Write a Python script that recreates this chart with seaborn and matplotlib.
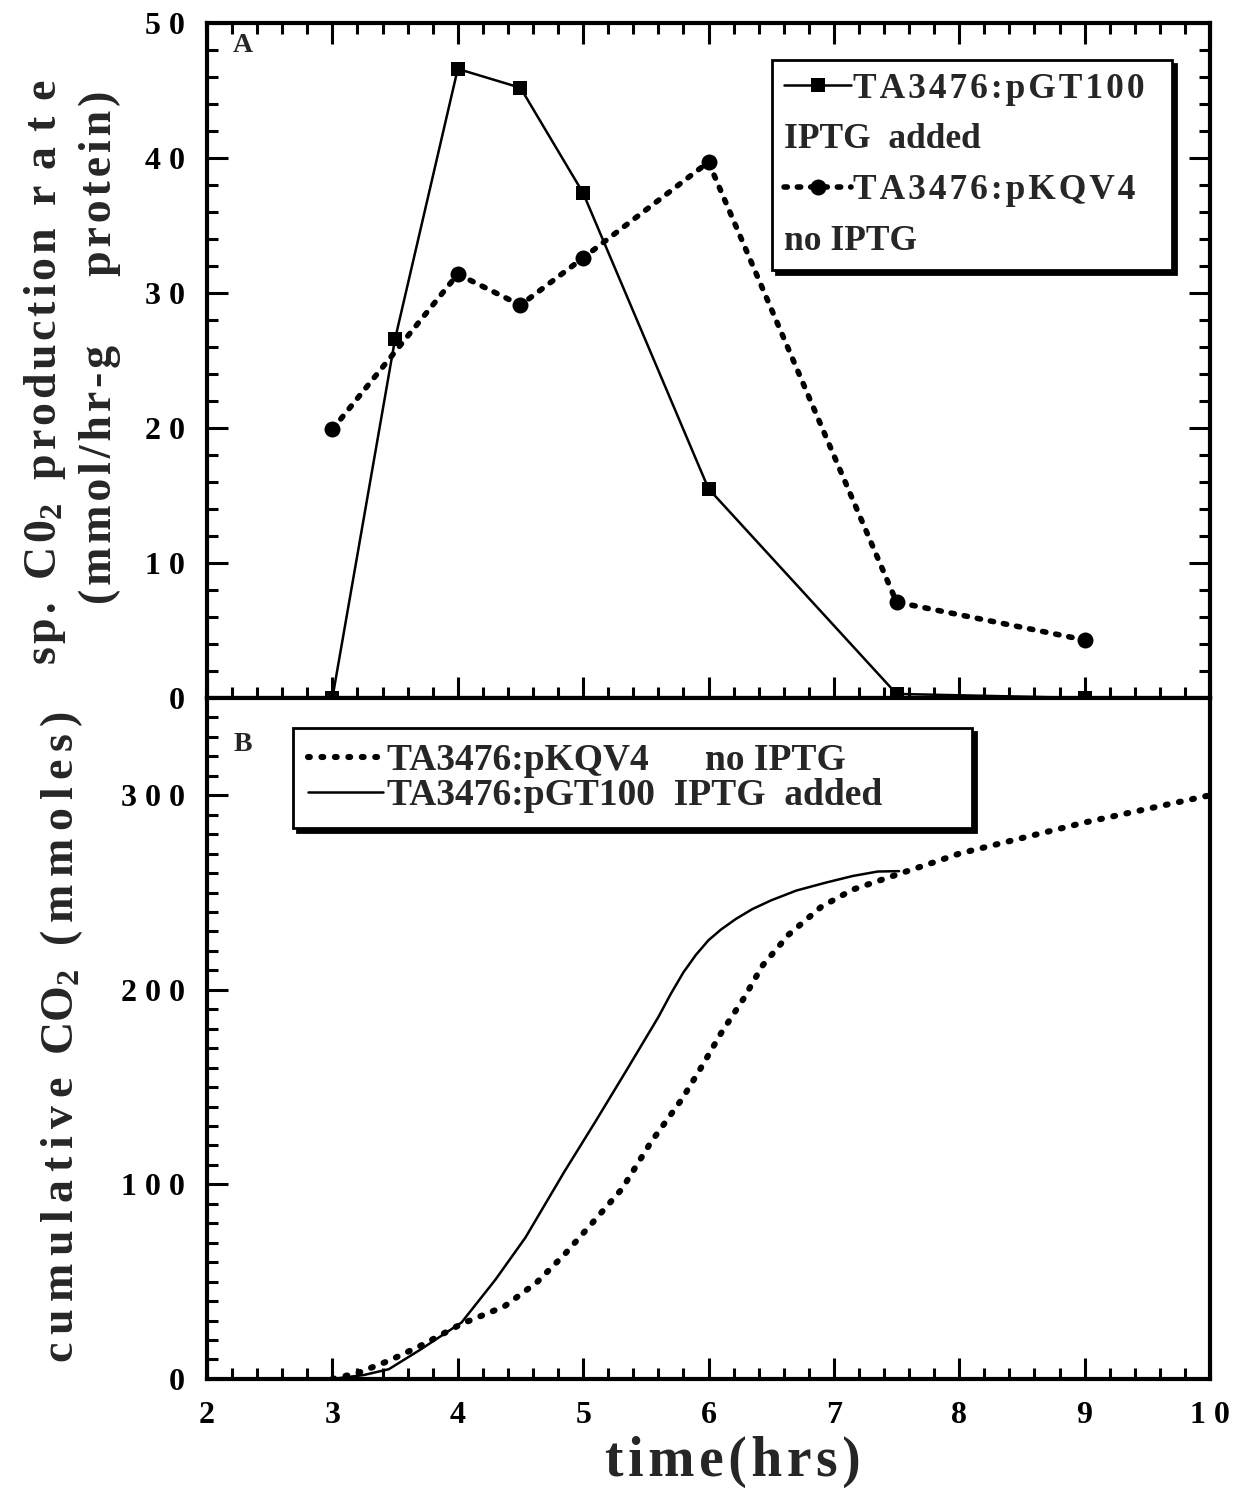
import matplotlib
matplotlib.use("Agg")
import matplotlib.pyplot as plt
import seaborn as sns
from matplotlib.lines import Line2D
from matplotlib.ticker import MultipleLocator, FuncFormatter

# ---- Panel A: specific CO2 production rate (mmol/hr-g protein) ----
time_pgt100 = [3, 3.5, 4, 4.5, 5, 6, 7.5, 9]
rate_pgt100 = [0, 26.6, 46.6, 45.2, 37.4, 15.5, 0.3, 0]
time_pkqv4 = [3, 4, 4.5, 5, 6, 7.5, 9]
rate_pkqv4 = [19.9, 31.4, 29.1, 32.6, 39.7, 7.1, 4.3]

# ---- Panel B: cumulative CO2 (mmoles) ----
cum_time_pgt100 = [3.0, 3.25, 3.45, 3.7, 4.03, 4.3, 4.54, 4.85, 5.1, 5.34,
                   5.6, 5.7, 5.8, 5.9, 6.0, 6.1, 6.22, 6.35, 6.5, 6.7, 6.93,
                   7.15, 7.35, 7.52]
cum_pgt100 = [0, 2, 5, 15, 29, 51, 72.7, 106.5, 132.5, 158,
              186, 198, 209, 218, 225.5, 231, 236.5, 241.5, 246, 251, 255,
              258.5, 260.8, 261]
cum_time_pkqv4 = [3.0, 3.2, 3.46, 3.72, 4.03, 4.37, 4.63, 4.85, 5.08, 5.31,
                  5.54, 5.79, 5.95, 6.10, 6.28, 6.43, 6.64, 6.90, 7.15, 7.52,
                  7.81, 8.0, 8.5, 9.0, 9.5, 10.0]
cum_pkqv4 = [0, 3, 9.6, 17.6, 28.3, 37.2, 49.6, 63.9, 80.7, 97.7, 121.6,
             144, 161, 177.7, 195.5, 212.4, 228.4, 242.7, 251.5, 259.6,
             265.8, 270, 278, 286, 293, 300]

label_pgt100 = ("TA3476:pGT100", "IPTG  added")
label_pkqv4 = ("TA3476:pKQV4", "no IPTG")

sns.set_theme(style="ticks")
plt.rcParams.update({
    "font.family": ["Liberation Serif", "DejaVu Serif"],
    "font.weight": "bold",
    "mathtext.default": "regular",
    "axes.linewidth": 3,
    "axes.edgecolor": "black",
    "xtick.color": "black",
    "ytick.color": "black",
})

HAIR = "\u200a"


def spaced(text, n=1):
    """Letter-space a string with hair spaces; word gaps become two spaces."""
    words = text.split(" ")
    return "  ".join((HAIR * n).join(w) for w in words)


def spaced_digits(v, _pos=None):
    return " ".join(str(int(round(v))))


fig = plt.figure(figsize=(12.54, 14.93), dpi=100)
ax_a = fig.add_axes([0.1651, 0.5325, 0.7998, 0.4521])
ax_b = fig.add_axes([0.1651, 0.0764, 0.7998, 0.4561], sharex=ax_a)

# ---------------- Panel A ----------------
dot_a = dict(linestyle=(0, (0.6, 1.8)), dash_capstyle="round", linewidth=4)
sns.lineplot(x=time_pkqv4, y=rate_pkqv4, ax=ax_a, color="black", marker="o",
             markersize=11.5, markeredgewidth=0, clip_on=False, **dot_a)
sns.lineplot(x=time_pgt100, y=rate_pgt100, ax=ax_a, color="black", marker="s",
             markersize=10, markeredgewidth=0, linewidth=1.8, clip_on=False)

ax_a.set_xlim(2, 10)
ax_a.set_ylim(0, 50)
ax_a.xaxis.set_major_locator(MultipleLocator(1))
ax_a.xaxis.set_minor_locator(MultipleLocator(0.2))
ax_a.yaxis.set_major_locator(MultipleLocator(10))
ax_a.yaxis.set_minor_locator(MultipleLocator(2))
ax_a.yaxis.set_major_formatter(FuncFormatter(spaced_digits))
ax_a.tick_params(which="both", direction="in", top=True, right=True,
                 bottom=True, left=True, labelbottom=False, width=2.2,
                 labelsize=23, pad=16)
ax_a.tick_params(which="major", length=15)
ax_a.tick_params(which="minor", length=8)
ax_a.set_xlabel("")
ax_a.set_ylabel("")

ax_a.text(0.036, 0.967, "A", transform=ax_a.transAxes, fontsize=20,
          fontweight="bold", ha="center", va="center")

line1 = spaced("sp. C0", 1) + "$_2$" + "  " + spaced("production", 1) \
    + "  " + spaced("rate", 4)
line2 = spaced("(mmol/hr-g", 1) + "      " + spaced("protein)", 1)
ax_a.text(-0.1615, 0.483, line1, transform=ax_a.transAxes, rotation=90,
          ha="center", va="center", fontsize=33, fontweight="bold")
ax_a.text(-0.1067, 0.52, line2, transform=ax_a.transAxes, rotation=90,
          ha="center", va="center", fontsize=33, fontweight="bold")

h_pgt = Line2D([], [], color="black", marker="s", markersize=10,
               markeredgewidth=0, linewidth=1.8)
h_kqv = Line2D([], [], color="black", marker="o", markersize=11.5,
               markeredgewidth=0, **dot_a)
blank = Line2D([], [], linestyle="none")
leg_a = ax_a.legend(
    handles=[h_pgt, blank, h_kqv, blank],
    labels=[spaced(label_pgt100[0], 1), label_pgt100[1],
            spaced(label_pkqv4[0], 1), label_pkqv4[1]],
    loc="upper left", bbox_to_anchor=(0.563, 0.5, 0.399, 0.445),
    mode="expand", borderaxespad=0,
    fontsize=25.5, handlelength=1.9, handletextpad=0.05, labelspacing=0.5,
    borderpad=0.35, fancybox=False, framealpha=1, edgecolor="black",
    shadow={"ox": 3, "oy": -3, "facecolor": "black", "edgecolor": "black",
            "alpha": 1},
)
leg_a.get_frame().set_linewidth(2)
# second text lines of each entry start at the left edge, without a handle
for column in leg_a._legend_handle_box.get_children():
    for i, row in enumerate(column.get_children()):
        if i % 2 == 1:
            row.sep = 0
            row.get_children()[0].width = 0

# ---------------- Panel B ----------------
dot_b = dict(linestyle=(0, (0.3, 1.9)), dash_capstyle="round", linewidth=4.4)
sns.lineplot(x=cum_time_pkqv4, y=cum_pkqv4, ax=ax_b, color="black", **dot_b)
sns.lineplot(x=cum_time_pgt100, y=cum_pgt100, ax=ax_b, color="black",
             linewidth=1.8)

ax_b.set_ylim(0, 350)
ax_b.yaxis.set_major_locator(MultipleLocator(100))
ax_b.yaxis.set_minor_locator(MultipleLocator(10))
ax_b.xaxis.set_major_formatter(FuncFormatter(spaced_digits))
ax_b.yaxis.set_major_formatter(FuncFormatter(spaced_digits))
ax_b.tick_params(which="both", direction="in", top=False, right=False,
                 bottom=True, left=True, width=2.2, labelsize=23, pad=16)
ax_b.tick_params(which="major", length=15)
ax_b.tick_params(which="minor", length=8)
ax_b.set_ylabel("")
ax_b.set_xlabel("")

ax_b.text(0.036, 0.931, "B", transform=ax_b.transAxes, fontsize=20,
          fontweight="bold", ha="center", va="center")
ax_b.text(-0.1446, 0.502,
          spaced("cumulative", 2) + "  CO$_2$  " + spaced("(mmoles)", 2),
          transform=ax_b.transAxes, rotation=90, ha="center", va="center",
          fontsize=33, fontweight="bold")
ax_b.text(0.524, -0.122, spaced("time(hrs)", 1), transform=ax_b.transAxes,
          ha="center", va="center", fontsize=40, fontweight="bold")

hb_kqv = Line2D([], [], color="black", **dot_b)
hb_pgt = Line2D([], [], color="black", linewidth=1.8)
leg_b = ax_b.legend(
    handles=[hb_kqv, hb_pgt],
    labels=["TA3476:pKQV4      no IPTG", "TA3476:pGT100  IPTG  added"],
    loc="upper left", bbox_to_anchor=(0.086, 0.5, 0.677, 0.456),
    mode="expand", borderaxespad=0,
    fontsize=27, handlelength=2.0, handletextpad=0.1, labelspacing=0.0,
    borderpad=0.4, fancybox=False, framealpha=1, edgecolor="black",
    shadow={"ox": 3, "oy": -3, "facecolor": "black", "edgecolor": "black",
            "alpha": 1},
)
leg_b.get_frame().set_linewidth(2)

fig.savefig("out.png", dpi=100, facecolor="white")
